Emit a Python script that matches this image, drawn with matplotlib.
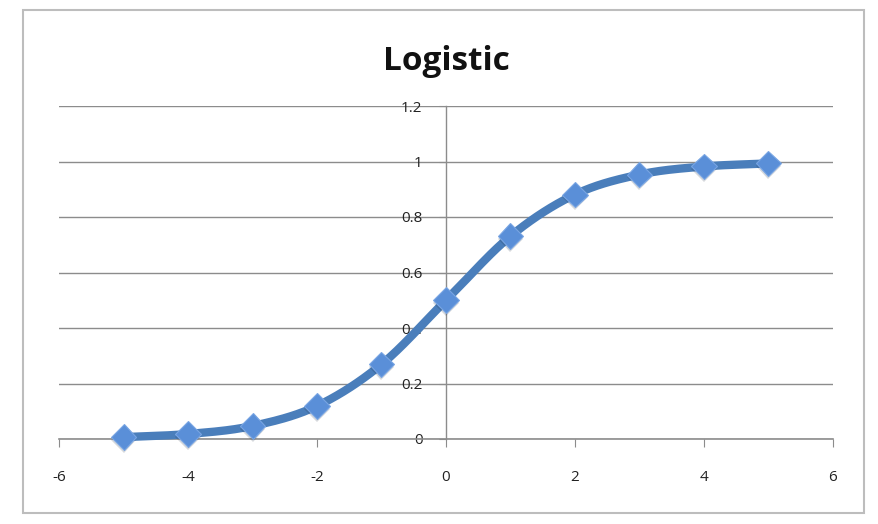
import matplotlib
matplotlib.use("Agg")
import matplotlib.pyplot as plt
import matplotlib.patheffects as pe
from matplotlib.patches import Rectangle
import numpy as np

plt.rcParams["axes.unicode_minus"] = False

# logistic curve sampled at the integers
x_vals = [-5, -4, -3, -2, -1, 0, 1, 2, 3, 4, 5]
y_vals = [0.0067, 0.018, 0.047, 0.119, 0.269, 0.5, 0.731, 0.881, 0.953, 0.982, 0.993]
x_ticks = [-6, -4, -2, 0, 2, 4, 6]
y_ticks = [0, 0.2, 0.4, 0.6, 0.8, 1, 1.2]
y_labels = ["0", "0.2", "0.4", "0.6", "0.8", "1", "1.2"]

line_col = "#4a7ebb"
mark_col = "#5a8fd8"
grid_col = "#8c8c8c"


def smooth(xs, ys, n=30):
    # catmull-rom through the points, like a spreadsheet "smoothed line"
    xs = np.asarray(xs, float)
    ys = np.asarray(ys, float)
    px = np.concatenate([[2 * xs[0] - xs[1]], xs, [2 * xs[-1] - xs[-2]]])
    py = np.concatenate([[2 * ys[0] - ys[1]], ys, [2 * ys[-1] - ys[-2]]])
    ox, oy = [], []
    t = np.linspace(0, 1, n)
    for i in range(1, len(px) - 2):
        for p, out in ((px, ox), (py, oy)):
            p0, p1, p2, p3 = p[i - 1], p[i], p[i + 1], p[i + 2]
            out.extend(0.5 * (2 * p1 + (-p0 + p2) * t
                              + (2 * p0 - 5 * p1 + 4 * p2 - p3) * t ** 2
                              + (-p0 + 3 * p1 - 3 * p2 + p3) * t ** 3))
    return ox, oy


fig = plt.figure(figsize=(8.79, 5.24), dpi=100)
fig.patch.set_facecolor("white")
fig.patches.append(Rectangle((23 / 879, 1 - 513 / 524), (864 - 23) / 879, (513 - 10) / 524,
                             transform=fig.transFigure, fill=False,
                             edgecolor="#bdbdbd", linewidth=1.5))

ax = fig.add_axes([59 / 879, (524 - 439) / 524, (833 - 59) / 879, (439 - 106) / 524])
ax.set_xlim(-6, 6)
ax.set_ylim(0, 1.2)

for s in ("top", "right"):
    ax.spines[s].set_visible(False)
ax.spines["left"].set_position(("data", 0))
ax.spines["left"].set_color(grid_col)
ax.spines["bottom"].set_color(grid_col)
ax.spines["left"].set_linewidth(1.0)
ax.spines["bottom"].set_linewidth(1.2)

ax.set_yticks(y_ticks)
ax.set_yticklabels(y_labels)
ax.set_xticks(x_ticks)
ax.yaxis.grid(True, color=grid_col, linewidth=1.0)
ax.set_axisbelow(True)
ax.tick_params(axis="y", length=5, color=grid_col, pad=12, labelsize=11, labelcolor="#222222")
ax.tick_params(axis="x", direction="out", length=6, color=grid_col, pad=16, labelsize=11,
               labelcolor="#222222")
for lab in ax.get_xticklabels() + ax.get_yticklabels():
    lab.set_fontfamily("Open Sans")

sx, sy = smooth(x_vals, y_vals)
ax.plot(sx, sy, color=line_col, linewidth=6, solid_capstyle="round", zorder=3,
        clip_on=False)
ax.plot(x_vals, y_vals, linestyle="none", marker="D", markersize=13,
        markerfacecolor=mark_col, markeredgecolor="#78a5e3", markeredgewidth=0.8,
        zorder=4, clip_on=False,
        path_effects=[pe.SimplePatchShadow(offset=(0, -2), alpha=0.18), pe.Normal()])

ax.set_title("Logistic", fontsize=24, fontweight="bold", fontfamily="Open Sans",
             pad=26, color="#111111")

plt.savefig("out.png", dpi=100)
